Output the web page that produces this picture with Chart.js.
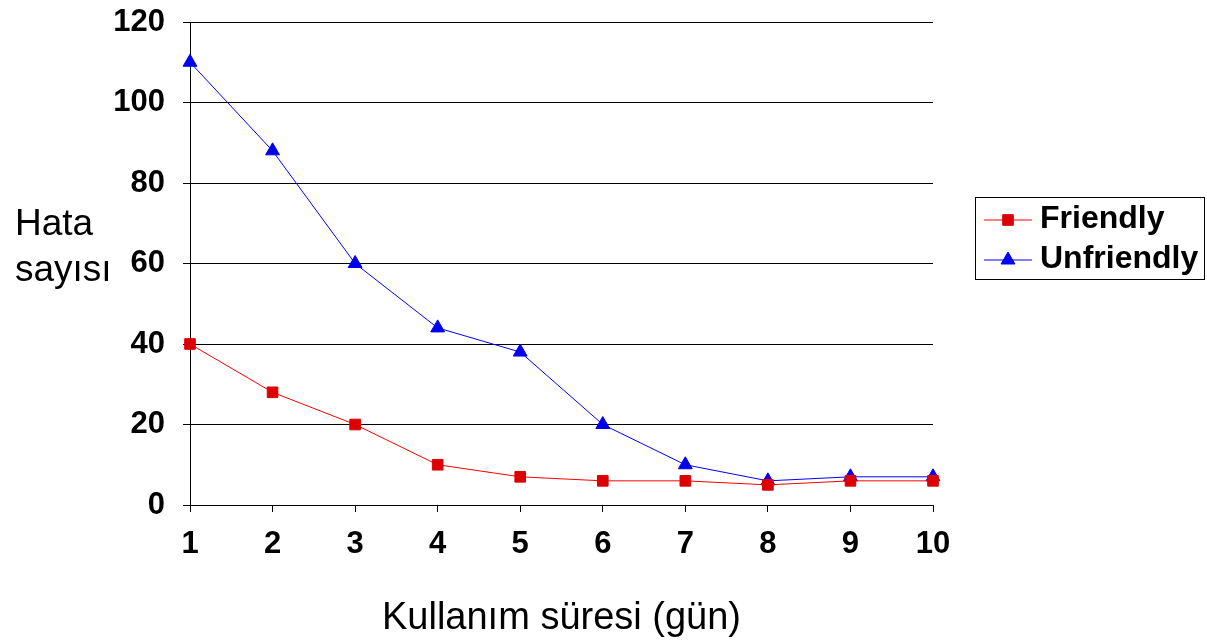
<!DOCTYPE html>
<html>
<head>
<meta charset="utf-8">
<script src="https://cdn.jsdelivr.net/npm/chart.js@4/dist/chart.umd.min.js"></script>
<style>
  html, body { margin: 0; padding: 0; background: #fff; }
</style>
</head>
<body>
<canvas id="grafik" width="1207" height="643"></canvas>
<script>
const gunler = ['1', '2', '3', '4', '5', '6', '7', '8', '9', '10'];
const friendly = [40, 28, 20, 10, 7, 6, 6, 5, 6, 6];
const unfriendly = [110, 88, 60, 44, 38, 20, 10, 6, 7, 7];
const yMin = 0, yMax = 120, yStep = 20;

const FONT = '"Liberation Sans", Arial, sans-serif';

// y title on two lines + boxed legend with line and marker
const extras = {
  id: 'extras',
  afterDraw(chart) {
    const ctx = chart.ctx;
    ctx.save();
    ctx.fillStyle = '#000';
    ctx.font = '37px ' + FONT;
    ctx.textAlign = 'left';
    ctx.textBaseline = 'alphabetic';
    ctx.fillText('Hata', 15, 235);
    ctx.fillText('sayısı', 15, 281);

    ctx.strokeStyle = '#000';
    ctx.lineWidth = 1;
    ctx.strokeRect(975.5, 197.5, 229, 82);

    ctx.font = 'bold 32px ' + FONT;
    chart.data.datasets.forEach((ds, i) => {
      const y = 220 + i * 40;
      ctx.strokeStyle = ds.borderColor;
      ctx.lineWidth = ds.borderWidth;
      ctx.beginPath();
      ctx.moveTo(984, y);
      ctx.lineTo(1032, y);
      ctx.stroke();
      ctx.fillStyle = ds.pointBackgroundColor;
      ctx.strokeStyle = ds.pointBorderColor;
      Chart.helpers.drawPoint(ctx, {
        pointStyle: ds.pointStyle, radius: ds.pointRadius, rotation: 0, borderWidth: 1
      }, 1008, y);
      ctx.fillStyle = '#000';
      ctx.fillText(ds.label, 1040, y + 8);
    });
    ctx.restore();
  }
};

new Chart(document.getElementById('grafik').getContext('2d'), {
  type: 'line',
  data: {
    labels: gunler,
    datasets: [{
      label: 'Friendly',
      data: friendly,
      borderColor: '#ff0000',
      borderWidth: 1,
      pointStyle: 'rect',
      pointRadius: 7.5,
      pointBackgroundColor: '#dd0000',
      pointBorderColor: '#dd0000',
      tension: 0,
      clip: false
    }, {
      label: 'Unfriendly',
      data: unfriendly,
      borderColor: '#0000ff',
      borderWidth: 1,
      pointStyle: 'triangle',
      pointRadius: 8,
      pointBackgroundColor: '#0000ee',
      pointBorderColor: '#0000ee',
      tension: 0,
      clip: false
    }]
  },
  options: {
    responsive: false,
    animation: false,
    layout: { padding: { left: 0, top: 22, right: 274, bottom: 0 } },
    plugins: {
      legend: { display: false },
      tooltip: { enabled: false }
    },
    scales: {
      x: {
        offset: false,
        afterFit: s => { s.height = 138; s.paddingLeft = 0; s.paddingRight = 0; },
        grid: { drawOnChartArea: false, drawTicks: true, tickLength: 7, color: '#000' },
        border: { color: '#000', width: 1 },
        ticks: { color: '#000', padding: 14, maxRotation: 0, font: { family: FONT, size: 31, weight: 'bold' } },
        title: {
          display: true,
          text: 'Kullanım süresi (gün)',
          color: '#000',
          font: { family: FONT, size: 38 },
          padding: { top: 0, bottom: 2 }
        }
      },
      y: {
        min: yMin,
        max: yMax,
        afterFit: s => { s.width = 190; s.paddingTop = 0; s.paddingBottom = 0; },
        grid: { color: '#000', lineWidth: 1, tickLength: 7 },
        border: { color: '#000', width: 1 },
        ticks: { stepSize: yStep, color: '#000', padding: 18, font: { family: FONT, size: 31, weight: 'bold' } }
      }
    }
  },
  plugins: [extras]
});
</script>
</body>
</html>
